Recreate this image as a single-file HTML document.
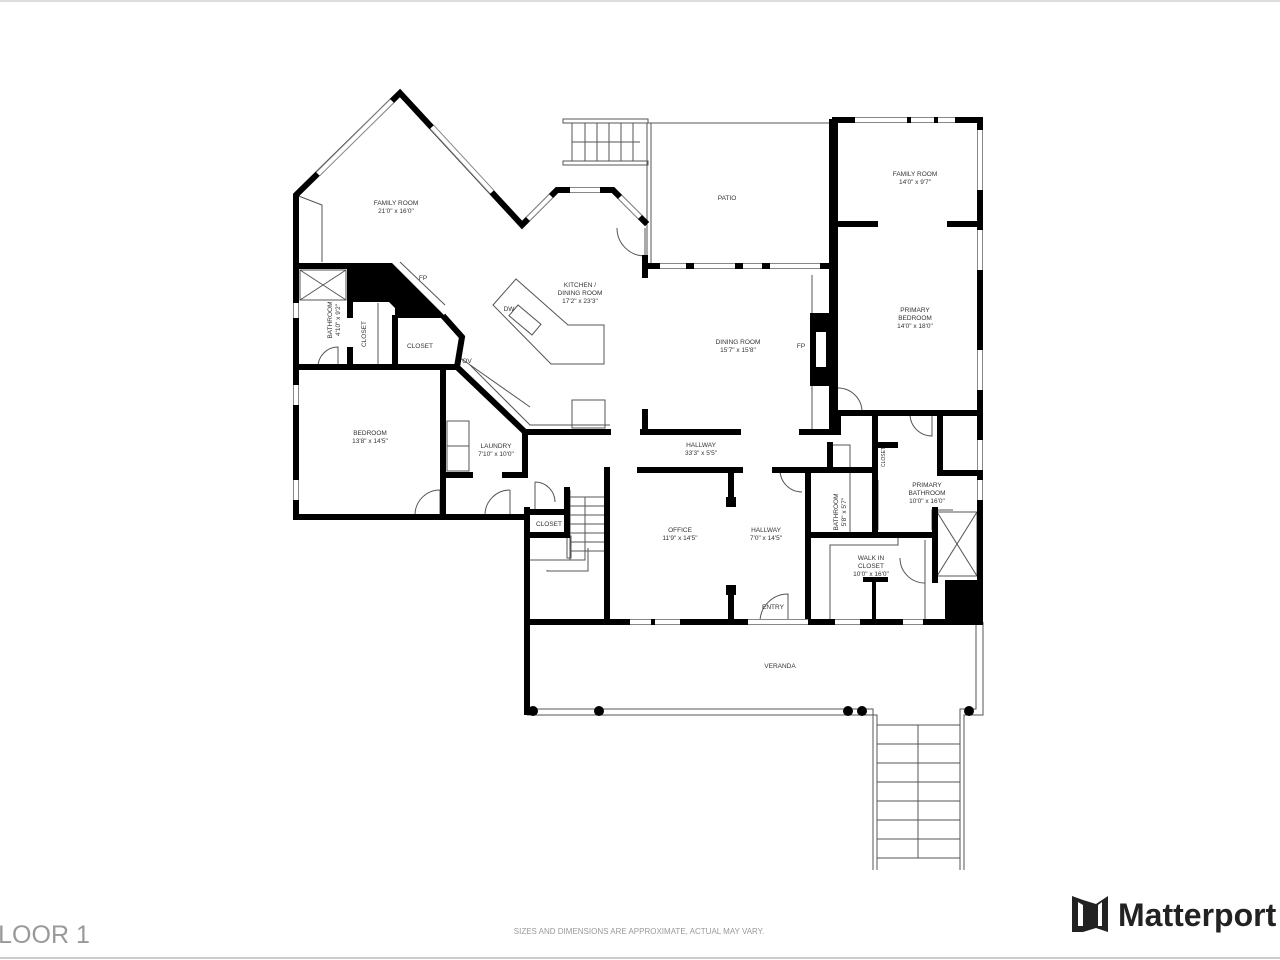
<!DOCTYPE html>
<html><head><meta charset="utf-8"><style>
html,body{margin:0;padding:0;background:#fff;width:1280px;height:960px;overflow:hidden}
svg{display:block}
text{font-family:"Liberation Sans",sans-serif;font-size:6.5px;fill:#333;text-anchor:middle}
</style></head><body>
<svg width="1280" height="960" viewBox="0 0 1280 960" xmlns="http://www.w3.org/2000/svg">
<line x1="0" y1="1" x2="1280" y2="1" stroke="#bbb" stroke-width="1"/>
<line x1="0" y1="958" x2="1280" y2="958" stroke="#ccc" stroke-width="2"/>

<g fill="none" stroke="#555" stroke-width="1">
<rect x="563" y="119" width="85" height="4"/><rect x="563" y="161" width="85" height="4"/>
<line x1="572" y1="123" x2="572" y2="161"/><line x1="585" y1="123" x2="585" y2="161"/><line x1="597" y1="123" x2="597" y2="161"/><line x1="609" y1="123" x2="609" y2="161"/><line x1="621" y1="123" x2="621" y2="161"/><line x1="633" y1="123" x2="633" y2="161"/>
<line x1="572" y1="142" x2="640" y2="142"/>
<line x1="647" y1="123" x2="647" y2="265"/><line x1="651" y1="123" x2="651" y2="265"/>
<line x1="648" y1="123" x2="832" y2="123"/>
<polygon points="493,305 516,279 568,325 604,325 604,364 551,364"/>
<rect x="510" y="313" width="30" height="14" transform="rotate(40 525 320)"/>
<polyline points="400,262 445,305"/>
<polyline points="470,365 530,425 610,425"/>
<line x1="456" y1="355" x2="530" y2="407"/>
<rect x="572" y="400" width="33" height="28"/>
<polyline points="296,195 322,205 322,262"/>
<rect x="447" y="421" width="22" height="50"/><line x1="447" y1="446" x2="469" y2="446"/>
<rect x="300" y="270" width="46" height="30"/><line x1="300" y1="270" x2="346" y2="300"/><line x1="346" y1="270" x2="300" y2="300"/>
<rect x="937" y="512" width="40" height="64"/><line x1="937" y1="512" x2="977" y2="576"/><line x1="977" y1="512" x2="937" y2="576"/>
<polyline points="932,530 932,510 953,510"/>
<line x1="378" y1="303" x2="378" y2="365"/>
<line x1="812" y1="275" x2="812" y2="432"/>
<polyline points="830,445 850,445 850,535"/>
<polyline points="898,535 898,545 830,545 830,622"/>
<line x1="925" y1="540" x2="925" y2="622"/>
<line x1="878" y1="480" x2="878" y2="530"/>
<line x1="570" y1="490" x2="570" y2="560"/>
<rect x="567" y="536" width="4" height="22"/>
<polyline points="530,560 585,560 585,497 607,497"/>
<line x1="570" y1="497" x2="605" y2="497"/><line x1="570" y1="506" x2="605" y2="506"/><line x1="570" y1="515" x2="605" y2="515"/><line x1="570" y1="524" x2="605" y2="524"/><line x1="570" y1="533" x2="605" y2="533"/><line x1="570" y1="542" x2="605" y2="542"/><line x1="570" y1="551" x2="605" y2="551"/>
<polyline points="547,570 547,571 588,571 588,548"/>
<polyline points="527,709 873,709 873,870"/><polyline points="527,715 877,715 877,870"/>
<polyline points="960,870 960,709 976,709 976,622"/><polyline points="964,870 964,715 983,715 983,622"/>
<line x1="877" y1="725" x2="960" y2="725"/><line x1="877" y1="744" x2="960" y2="744"/><line x1="877" y1="763" x2="960" y2="763"/><line x1="877" y1="782" x2="960" y2="782"/><line x1="877" y1="801" x2="960" y2="801"/><line x1="877" y1="820" x2="960" y2="820"/><line x1="877" y1="839" x2="960" y2="839"/><line x1="877" y1="858" x2="960" y2="858"/>
<line x1="918" y1="725" x2="918" y2="858"/>
<path d="M617 228 A28 28 0 0 0 645 256 L645 228"/>
<path d="M838 388 A24 24 0 0 1 862 412 L838 412"/>
<path d="M910 414 A22 22 0 0 0 932 436 L932 414"/>
<path d="M760 622 A28 28 0 0 1 788 594 L788 622"/>
<path d="M415 515 A25 25 0 0 1 440 490 L440 515"/>
<path d="M485 515 A25 25 0 0 1 510 490"/><line x1="510" y1="490" x2="510" y2="517"/>
<path d="M535 482 A20 20 0 0 1 555 502"/><line x1="535" y1="482" x2="535" y2="510"/>
<path d="M900 558 A25 25 0 0 0 925 583 L925 558"/>
<path d="M318 367 A20 20 0 0 1 338 347 L338 367"/>
<path d="M780 470 A22 22 0 0 0 802 492"/>
</g>

<g fill="none" stroke="#000" stroke-width="6" stroke-linecap="square" stroke-linejoin="miter">
<polyline points="296,517 296,195 400,93 522,225 557,190 613,190 645,222"/>
<line x1="645" y1="258" x2="645" y2="275"/>
<polyline points="645,266 832,266 832,122"/>
<polyline points="835,410 835,120 980,120 980,622"/>
<line x1="835" y1="224" x2="875" y2="224"/><line x1="950" y1="224" x2="980" y2="224"/>
<line x1="835" y1="413" x2="980" y2="413"/>
<line x1="832" y1="266" x2="832" y2="432"/>
<line x1="645" y1="412" x2="645" y2="432"/>
<line x1="643" y1="432" x2="738" y2="432"/><line x1="802" y1="432" x2="838" y2="432"/>
<line x1="838" y1="413" x2="838" y2="432"/>
<line x1="640" y1="470" x2="740" y2="470"/><line x1="775" y1="470" x2="875" y2="470"/>
<line x1="607" y1="470" x2="607" y2="620"/>
<line x1="731" y1="470" x2="731" y2="500"/>
<line x1="731" y1="595" x2="731" y2="620"/>
<line x1="808" y1="470" x2="808" y2="622"/>
<line x1="875" y1="413" x2="875" y2="535"/>
<line x1="808" y1="535" x2="935" y2="535"/>
<line x1="935" y1="510" x2="935" y2="580"/>
<polyline points="940,413 940,473 975,473"/>
<line x1="527" y1="622" x2="980" y2="622"/>
<line x1="527" y1="510" x2="527" y2="712"/>
<line x1="296" y1="517" x2="527" y2="517"/>
<line x1="296" y1="266" x2="350" y2="266"/>
<line x1="350" y1="266" x2="350" y2="315"/><line x1="350" y1="350" x2="350" y2="367"/>
<line x1="296" y1="367" x2="455" y2="367"/>
<line x1="395" y1="318" x2="395" y2="367"/>
<polyline points="445,318 462,337 457,367 525,432 608,432"/>
<line x1="443" y1="370" x2="443" y2="517"/>
<line x1="443" y1="475" x2="470" y2="475"/><line x1="505" y1="475" x2="525" y2="475"/>
<line x1="525" y1="432" x2="525" y2="475"/>
<line x1="530" y1="512" x2="567" y2="512"/><line x1="567" y1="490" x2="567" y2="535"/>
<line x1="530" y1="535" x2="567" y2="535"/>
<line x1="830" y1="445" x2="830" y2="470"/>
<line x1="878" y1="445" x2="895" y2="445"/>
</g>

<!-- windows over walls -->
<g stroke-linecap="butt">
<g stroke="#888" stroke-width="6">
<line x1="318" y1="174" x2="392" y2="101"/>
<line x1="432" y1="127" x2="492" y2="192"/>
<line x1="528" y1="219" x2="551" y2="196"/>
<line x1="570" y1="190" x2="600" y2="190"/>
<line x1="620" y1="197" x2="640" y2="217"/>
<line x1="660" y1="266" x2="820" y2="266"/>
<line x1="855" y1="120" x2="955" y2="120"/>
<line x1="980" y1="130" x2="980" y2="190"/><line x1="980" y1="230" x2="980" y2="270"/><line x1="980" y1="350" x2="980" y2="390"/><line x1="980" y1="440" x2="980" y2="470"/><line x1="980" y1="480" x2="980" y2="500"/>
<line x1="630" y1="622" x2="680" y2="622"/><line x1="748" y1="622" x2="808" y2="622"/><line x1="835" y1="622" x2="860" y2="622"/><line x1="903" y1="622" x2="923" y2="622"/>
<line x1="296" y1="385" x2="296" y2="405"/><line x1="296" y1="480" x2="296" y2="500"/><line x1="296" y1="303" x2="296" y2="318"/>
</g>
<g stroke="#fff" stroke-width="4">
<line x1="318" y1="174" x2="392" y2="101"/>
<line x1="432" y1="127" x2="492" y2="192"/>
<line x1="528" y1="219" x2="551" y2="196"/>
<line x1="570" y1="190" x2="600" y2="190"/>
<line x1="620" y1="197" x2="640" y2="217"/>
<line x1="660" y1="266" x2="820" y2="266"/>
<line x1="855" y1="120" x2="955" y2="120"/>
<line x1="980" y1="130" x2="980" y2="190"/><line x1="980" y1="230" x2="980" y2="270"/><line x1="980" y1="350" x2="980" y2="390"/><line x1="980" y1="440" x2="980" y2="470"/><line x1="980" y1="480" x2="980" y2="500"/>
<line x1="630" y1="622" x2="680" y2="622"/><line x1="748" y1="622" x2="808" y2="622"/><line x1="835" y1="622" x2="860" y2="622"/><line x1="903" y1="622" x2="923" y2="622"/>
<line x1="296" y1="385" x2="296" y2="405"/><line x1="296" y1="480" x2="296" y2="500"/><line x1="296" y1="303" x2="296" y2="318"/>
</g>
<g fill="#000">
<rect x="686" y="263" width="8" height="6"/><rect x="735" y="263" width="8" height="6"/><rect x="762" y="263" width="8" height="6"/>
<rect x="907" y="117" width="4" height="6"/><rect x="934" y="117" width="4" height="6"/>
<rect x="651" y="619" width="4" height="6"/><rect x="690" y="619" width="4" height="6"/>
</g>
</g>

<g fill="#000">
<polygon points="350,263 392,263 447,318 395,318 395,308 389,302 350,302"/>
<rect x="810" y="313" width="22" height="73"/>
<rect x="945" y="580" width="38" height="42"/>
<rect x="863" y="577" width="25" height="5"/><rect x="872" y="582" width="4" height="40"/>
<rect x="726" y="497" width="10" height="10"/><rect x="726" y="585" width="10" height="10"/>
<circle cx="533" cy="711" r="5"/><circle cx="599" cy="711" r="5"/><circle cx="848" cy="711" r="5"/><circle cx="862" cy="711" r="5"/><circle cx="969" cy="711" r="5"/>
</g>
<rect x="816" y="332" width="10" height="35" fill="#fff"/>

<text x="396" y="205">FAMILY ROOM</text><text x="396" y="213">21'0" x 16'0"</text>
<text x="580" y="287">KITCHEN /</text><text x="580" y="295">DINING ROOM</text><text x="580" y="303">17'2" x 23'3"</text>
<text x="727" y="200">PATIO</text>
<text x="915" y="176">FAMILY ROOM</text><text x="915" y="184">14'0" x 9'7"</text>
<text x="915" y="312">PRIMARY</text><text x="915" y="320">BEDROOM</text><text x="915" y="328">14'0" x 18'0"</text>
<text x="738" y="344">DINING ROOM</text><text x="738" y="352">15'7" x 15'8"</text>
<text x="801" y="348">FP</text><text x="423" y="280">FP</text>
<text x="509" y="311">DW</text><text x="467" y="363">OV</text>
<text x="420" y="348">CLOSET</text>
<text x="366" y="334" transform="rotate(-90 366 334)">CLOSET</text>
<text x="332" y="320" transform="rotate(-90 332 320)">BATHROOM</text>
<text x="340" y="320" transform="rotate(-90 340 320)">4'10" x 9'2"</text>
<text x="370" y="435">BEDROOM</text><text x="370" y="443">13'8" x 14'5"</text>
<text x="496" y="448">LAUNDRY</text><text x="496" y="456">7'10" x 10'0"</text>
<text x="701" y="447">HALLWAY</text><text x="701" y="455">33'3" x 5'5"</text>
<text x="680" y="532">OFFICE</text><text x="680" y="540">11'9" x 14'5"</text>
<text x="766" y="532">HALLWAY</text><text x="766" y="540">7'0" x 14'5"</text>
<text x="773" y="609">ENTRY</text>
<text x="549" y="526">CLOSET</text>
<text x="780" y="668">VERANDA</text>
<text x="927" y="487">PRIMARY</text><text x="927" y="495">BATHROOM</text><text x="927" y="503">10'0" x 16'0"</text>
<text x="871" y="560">WALK IN</text><text x="871" y="568">CLOSET</text><text x="871" y="576">10'0" x 16'0"</text>
<text x="838" y="512" transform="rotate(-90 838 512)">BATHROOM</text>
<text x="846" y="512" transform="rotate(-90 846 512)">5'8" x 5'7"</text>
<text x="885" y="457" transform="rotate(-90 885 457)" style="font-size:5px">CLOSET</text>

<text x="639" y="934" style="font-size:8px;fill:#999">SIZES AND DIMENSIONS ARE APPROXIMATE, ACTUAL MAY VARY.</text>
<text x="44" y="943" style="font-size:25px;fill:#999">LOOR 1</text>
<g>
<polygon points="1072,896 1083,900 1096,904 1108,896 1108,932 1096,928 1083,932 1072,932" fill="#222"/>
<polygon points="1078,902 1083,905 1083,926 1078,926" fill="#fff"/>
<polygon points="1102,902 1098,905 1098,926 1102,926" fill="#fff"/>
<text x="1118" y="926" style="font-size:32px;font-weight:bold;fill:#222;text-anchor:start">Matterport</text>
</g>
</svg>
</body></html>
